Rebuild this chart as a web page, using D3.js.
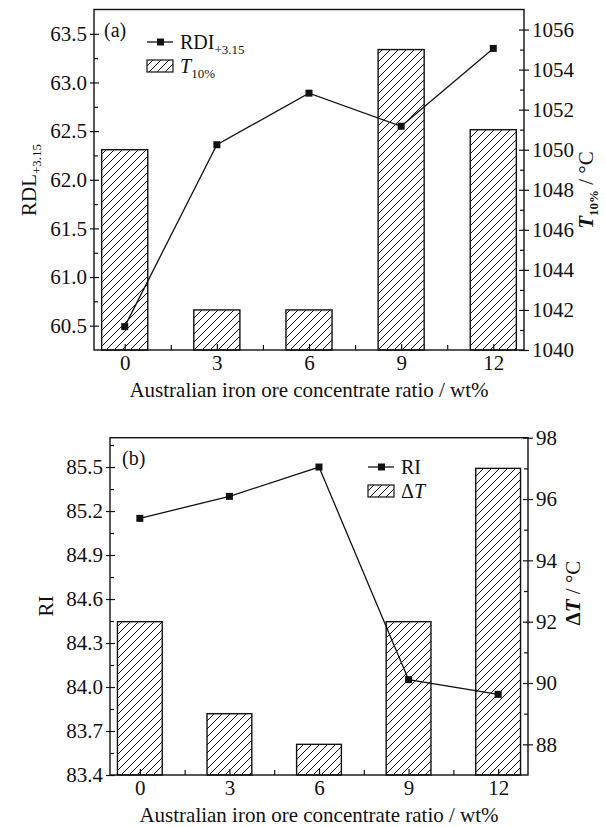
<!DOCTYPE html>
<html>
<head>
<meta charset="utf-8">
<script src="https://cdn.jsdelivr.net/npm/d3@7"></script>
<style>
body { margin: 0; background: #fff; }
svg text { font-family: "Liberation Serif", "Times New Roman", Times, serif !important; fill: #111; }
</style>
</head>
<body>
<svg id="chart" width="606" height="827"></svg>
<script>

//////////////////////////////////////////////////////////////////////////
//  DATA
//////////////////////////////////////////////////////////////////////////

var ratios = [0, 3, 6, 9, 12];              // Australian iron ore concentrate ratio, wt%
var ratioMinor = [1.5, 4.5, 7.5, 10.5];

// panel (a)
var rdiValues = [60.49, 62.36, 62.89, 62.55, 63.35];   // RDI+3.15
var t10Values = [1050, 1042, 1042, 1055, 1051];        // T10%, degC
var rdiTicks = [60.5, 61.0, 61.5, 62.0, 62.5, 63.0, 63.5];
var rdiMinor = [60.75, 61.25, 61.75, 62.25, 62.75, 63.25];
var t10Ticks = [1040, 1042, 1044, 1046, 1048, 1050, 1052, 1054, 1056];
var t10Minor = [1041, 1043, 1045, 1047, 1049, 1051, 1053, 1055];

// panel (b)
var riValues = [85.15, 85.30, 85.50, 84.05, 83.95];    // RI
var deltaTValues = [92, 89, 88, 92, 97];               // delta T, degC
var riTicks = [83.4, 83.7, 84.0, 84.3, 84.6, 84.9, 85.2, 85.5];
var riMinor = [83.55, 83.85, 84.15, 84.45, 84.75, 85.05, 85.35, 85.65];
var dtTicks = [88, 90, 92, 94, 96, 98];
var dtMinor = [89, 91, 93, 95, 97];

var xTitle = "Australian iron ore concentrate ratio / wt%";

var FONT = "'Liberation Serif', 'Times New Roman', serif";

var svg = d3.select("#chart");

// diagonal hatch for the bars
svg.append("defs").append("pattern")
	.attr("id", "hatch")
	.attr("patternUnits", "userSpaceOnUse")
	.attr("width", 8)
	.attr("height", 8)
	.append("path")
	.attr("d", "M-2,2 l4,-4 M0,8 l8,-8 M6,10 l4,-4")
	.attr("stroke", "#111")
	.attr("stroke-width", 1);


// writes a text made of parts, some of them subscripts
function richText(sel, parts) {
	var shift = 0;
	sel.attr("font-family", FONT);
	parts.forEach(function(p) {
		var ts = sel.append("tspan").text(p.t);
		var want = p.sub ? 5 : 0;
		if (want != shift) { ts.attr("dy", want - shift); shift = want; }
		if (p.sub) ts.attr("font-size", 13);
		if (p.italic) ts.attr("font-style", "italic");
		if (p.bold) ts.attr("font-weight", "bold");
	});
	return sel;
}

function styleAxis(g) {
	g.select(".domain").remove();
	g.attr("font-family", FONT).attr("font-size", 21);
	g.selectAll("line").attr("stroke", "#111").attr("stroke-width", 1.2);
	g.selectAll("text")
		.attr("font-family", FONT)
		.attr("font-size", 21)
		.attr("fill", "#111");
}


//////////////////////////////////////////////////////////////////////////
//  PANEL
//////////////////////////////////////////////////////////////////////////

function drawPanel(p) {
	var g = svg.append("g");

	var x = d3.scaleLinear().domain([-1, 13]).range(p.xRange);
	var yL = d3.scaleLinear().domain(p.leftDomain).range(p.yRange);
	var yR = d3.scaleLinear().domain(p.rightDomain).range(p.yRange);
	var bottom = p.yRange[0], top = p.yRange[1];

	// bars (right axis)
	g.selectAll(".bar")
		.data(p.barValues)
		.enter()
		.append("rect")
		.attr("class", "bar")
		.attr("x", function(d, i) { return x(ratios[i] - 0.75); })
		.attr("width", function(d, i) { return x(ratios[i] + 0.75) - x(ratios[i] - 0.75); })
		.attr("y", function(d) { return yR(d); })
		.attr("height", function(d) { return bottom - yR(d); })
		.attr("fill", "url(#hatch)")
		.attr("stroke", "#111")
		.attr("stroke-width", 1.4);

	// frame
	g.append("rect")
		.attr("x", p.xRange[0]).attr("y", top)
		.attr("width", p.xRange[1] - p.xRange[0])
		.attr("height", bottom - top)
		.attr("fill", "none")
		.attr("stroke", "#111")
		.attr("stroke-width", 1.4);

	// x axis, ticks inside
	g.append("g").attr("transform", "translate(0," + bottom + ")")
		.call(d3.axisBottom(x).tickValues(ratios).tickSize(-6).tickPadding(5))
		.call(styleAxis);
	g.append("g").attr("transform", "translate(0," + bottom + ")")
		.call(d3.axisBottom(x).tickValues(ratioMinor).tickSize(-5).tickFormat(""))
		.call(styleAxis);

	// left axis: major ticks cross the line, minor ticks inside
	var lx = p.xRange[0];
	g.append("g").attr("transform", "translate(" + lx + ",0)")
		.call(d3.axisLeft(yL).tickValues(p.leftTicks).tickFormat(d3.format(".1f")).tickSize(4).tickPadding(3))
		.call(styleAxis);
	g.append("g").attr("transform", "translate(" + lx + ",0)")
		.call(d3.axisLeft(yL).tickValues(p.leftTicks).tickSize(-5).tickFormat(""))
		.call(styleAxis);
	g.append("g").attr("transform", "translate(" + lx + ",0)")
		.call(d3.axisLeft(yL).tickValues(p.leftMinor).tickSize(-4).tickFormat(""))
		.call(styleAxis);

	// right axis
	var rx = p.xRange[1];
	g.append("g").attr("transform", "translate(" + rx + ",0)")
		.call(d3.axisRight(yR).tickValues(p.rightTicks).tickFormat(d3.format("d")).tickSize(5).tickPadding(3))
		.call(styleAxis);
	g.append("g").attr("transform", "translate(" + rx + ",0)")
		.call(d3.axisRight(yR).tickValues(p.rightTicks).tickSize(-5).tickFormat(""))
		.call(styleAxis);
	g.append("g").attr("transform", "translate(" + rx + ",0)")
		.call(d3.axisRight(yR).tickValues(p.rightMinor).tickSize(-4).tickFormat(""))
		.call(styleAxis);

	// line + square markers (left axis)
	var line = d3.line()
		.x(function(d, i) { return x(ratios[i]); })
		.y(function(d) { return yL(d); });

	g.append("path")
		.datum(p.lineValues)
		.attr("d", line)
		.attr("fill", "none")
		.attr("stroke", "#111")
		.attr("stroke-width", 1.3);

	g.selectAll(".dot")
		.data(p.lineValues)
		.enter()
		.append("rect")
		.attr("class", "dot")
		.attr("x", function(d, i) { return x(ratios[i]) - 3.5; })
		.attr("y", function(d) { return yL(d) - 3.5; })
		.attr("width", 7)
		.attr("height", 7)
		.attr("fill", "#111");

	// panel letter
	g.append("text")
		.attr("x", p.letterPos[0]).attr("y", p.letterPos[1])
		.attr("font-family", FONT)
		.attr("font-size", 20)
		.text(p.letter);

	// axis titles
	g.append("text")
		.attr("x", (p.xRange[0] + p.xRange[1]) / 2)
		.attr("y", bottom + 47)
		.attr("text-anchor", "middle")
		.attr("font-family", FONT)
		.attr("font-size", 21)
		.text(xTitle);

	richText(g.append("text")
		.attr("transform", "translate(" + p.leftTitlePos[0] + "," + p.leftTitlePos[1] + ") rotate(-90)")
		.attr("text-anchor", "middle")
		.attr("font-size", 21), p.leftTitle);

	richText(g.append("text")
		.attr("transform", "translate(" + p.rightTitlePos[0] + "," + p.rightTitlePos[1] + ") rotate(-90)")
		.attr("text-anchor", "middle")
		.attr("font-size", 21), p.rightTitle);

	// legend
	var lg = g.append("g").attr("transform", "translate(" + p.legendPos[0] + "," + p.legendPos[1] + ")");
	lg.append("line")
		.attr("x1", 0).attr("x2", 26).attr("y1", 0).attr("y2", 0)
		.attr("stroke", "#111").attr("stroke-width", 1.3);
	lg.append("rect")
		.attr("x", 10).attr("y", -3.5).attr("width", 7).attr("height", 7)
		.attr("fill", "#111");
	richText(lg.append("text").attr("x", 33).attr("y", 7).attr("font-size", 20), p.lineLegend);
	lg.append("rect")
		.attr("x", 0).attr("y", 18).attr("width", 26).attr("height", 12)
		.attr("fill", "url(#hatch)")
		.attr("stroke", "#111").attr("stroke-width", 1.2);
	richText(lg.append("text").attr("x", 33).attr("y", 31).attr("font-size", 20), p.barLegend);
}


drawPanel({
	letter: "(a)", letterPos: [104, 37],
	xRange: [94, 524], yRange: [350, 9.5],
	leftDomain: [60.25, 63.75], rightDomain: [1040, 1057],
	leftTicks: rdiTicks, leftMinor: rdiMinor,
	rightTicks: t10Ticks, rightMinor: t10Minor,
	lineValues: rdiValues, barValues: t10Values,
	leftTitle: [{t: "RDL"}, {t: "+3.15", sub: true}], leftTitlePos: [36, 180],
	rightTitle: [{t: "T", italic: true, bold: true}, {t: "10%", sub: true, bold: true}, {t: " / °C"}],
	rightTitlePos: [593, 190],
	legendPos: [147, 42],
	lineLegend: [{t: "RDI"}, {t: "+3.15", sub: true}],
	barLegend: [{t: "T", italic: true}, {t: "10%", sub: true}]
});

drawPanel({
	letter: "(b)", letterPos: [122, 465],
	xRange: [110, 528], yRange: [775, 437.7],
	leftDomain: [83.4, 85.7], rightDomain: [87, 98],
	leftTicks: riTicks, leftMinor: riMinor,
	rightTicks: dtTicks, rightMinor: dtMinor,
	lineValues: riValues, barValues: deltaTValues,
	leftTitle: [{t: "RI"}], leftTitlePos: [53, 606],
	rightTitle: [{t: "Δ", bold: true}, {t: "T", italic: true, bold: true}, {t: " / °C"}],
	rightTitlePos: [580, 593],
	legendPos: [368, 467],
	lineLegend: [{t: "RI"}],
	barLegend: [{t: "Δ"}, {t: "T", italic: true}]
});

</script>
</body>
</html>
